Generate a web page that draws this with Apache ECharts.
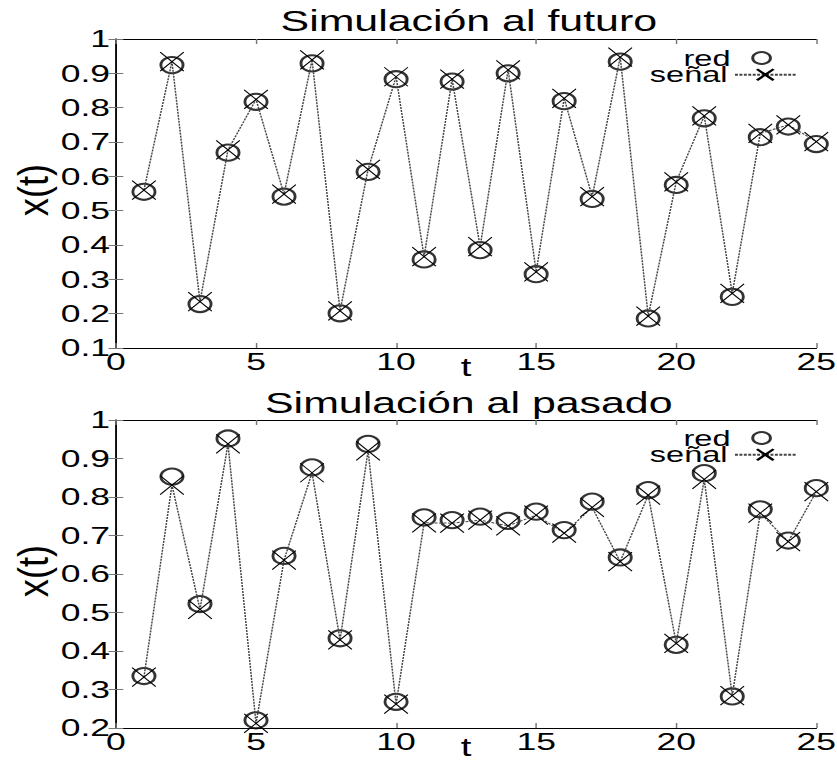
<!DOCTYPE html>
<html>
<head>
<meta charset="utf-8">
<script src="https://cdn.jsdelivr.net/npm/echarts@6/dist/echarts.min.js"></script>
<style>
  html, body { margin: 0; padding: 0; background: #fff; }
  #wrap { width: 837px; height: 762px; overflow: hidden; }
  /* the reference is stretched sideways, so draw narrow and stretch */
  #chart { width: 566px; height: 762px; transform: scaleX(1.4788); transform-origin: 0 0; }
</style>
</head>
<body>
<div id="wrap"><div id="chart"></div></div>
<script>
const t = [1, 2, 3, 4, 5, 6, 7, 8, 9, 10, 11, 12, 13, 14, 15, 16, 17, 18, 19, 20, 21, 22, 23, 24, 25];

const futuroRed = [0.555, 0.924, 0.228, 0.669, 0.817, 0.541, 0.929, 0.201, 0.613, 0.883, 0.358, 0.876, 0.385,
    0.900, 0.315, 0.819, 0.534, 0.934, 0.186, 0.575, 0.769, 0.249, 0.714, 0.745, 0.694];
const futuroSenal = [0.560, 0.934, 0.235, 0.677, 0.824, 0.548, 0.939, 0.208, 0.620, 0.890, 0.366, 0.883, 0.395,
    0.910, 0.322, 0.827, 0.541, 0.947, 0.193, 0.584, 0.776, 0.259, 0.725, 0.750, 0.701];

const pasadoRed = [0.335, 0.853, 0.522, 0.952, 0.220, 0.647, 0.877, 0.433, 0.938, 0.268, 0.747, 0.740, 0.749,
    0.738, 0.762, 0.714, 0.788, 0.643, 0.818, 0.416, 0.862, 0.282, 0.768, 0.687, 0.823];
const pasadoSenal = [0.332, 0.831, 0.508, 0.938, 0.212, 0.636, 0.863, 0.429, 0.920, 0.262, 0.733, 0.732, 0.740,
    0.725, 0.753, 0.706, 0.773, 0.632, 0.805, 0.420, 0.846, 0.284, 0.758, 0.684, 0.814];

const titles = ['Simulación al futuro', 'Simulación al pasado'];
const yMins = [0.1, 0.2];

const FONT = 'Liberation Sans';
const xMark = 'path://M0,0L10,10M10,0L0,10';

const pairs = (ys) => t.map((x, i) => [x, ys[i]]);

const grids = [
    { left: 78.4, top: 39, width: 473.6, height: 309, outerBoundsMode: 'none' },
    { left: 78.4, top: 420, width: 473.6, height: 308, outerBoundsMode: 'none' }
];

const xAxes = [];
const yAxes = [];
grids.forEach((g, i) => {
    const tick = { show: true, inside: true, length: 5, lineStyle: { color: '#777', width: 1 } };
    const line = { show: true, lineStyle: { color: '#000', width: 1 } };
    xAxes.push({
        type: 'value', gridIndex: i, position: 'bottom', min: 0, max: 25, interval: 5,
        axisLine: line, axisTick: tick, splitLine: { show: false },
        axisLabel: { color: '#000', fontFamily: FONT, fontSize: 24, margin: 2 },
        name: 't', nameLocation: 'middle', nameGap: 6, nameMoveOverlap: false,
        nameTextStyle: { color: '#000', fontFamily: FONT, fontSize: 26 }
    });
    xAxes.push({
        type: 'value', gridIndex: i, position: 'top', min: 0, max: 25, interval: 5,
        axisLine: line, axisTick: tick, axisLabel: { show: false }, splitLine: { show: false }
    });
    yAxes.push({
        type: 'value', gridIndex: i, position: 'left', min: yMins[i], max: 1, interval: 0.1,
        axisLine: line, axisTick: tick, splitLine: { show: false },
        axisLabel: {
            color: '#000', fontFamily: FONT, fontSize: 24, margin: 4,
            formatter: (v) => String(Number(v.toFixed(1)))
        }
    });
    yAxes.push({
        type: 'value', gridIndex: i, position: 'right', min: yMins[i], max: 1, interval: 0.1,
        axisLine: line, axisTick: tick, axisLabel: { show: false }, splitLine: { show: false }
    });
});

const makeSeries = (i, red, senal) => [
    {
        name: 'red', type: 'scatter', xAxisIndex: i * 2, yAxisIndex: i * 2,
        symbol: 'emptyCircle', symbolSize: [15, 16],
        itemStyle: { color: '#000', borderColor: '#000', borderWidth: 0.8 },
        data: pairs(red), z: 3
    },
    {
        name: 'señal', type: 'line', xAxisIndex: i * 2, yAxisIndex: i * 2,
        symbol: xMark, symbolSize: [16, 19], showSymbol: true,
        itemStyle: { color: 'transparent', borderColor: '#000', borderWidth: 0.9 },
        lineStyle: { color: '#444', width: 1, type: [2, 1] },
        data: pairs(senal), z: 4
    }
];

// one legend per row so the rows can sit as close as in the reference
const legendText = { color: '#000', fontFamily: FONT, fontSize: 22, lineHeight: 16 };
const redLegend = (top) => ({
    orient: 'vertical', align: 'right', right: 44, top: top, padding: 0,
    itemWidth: 12, itemHeight: 12, selectedMode: false,
    textStyle: Object.assign({ padding: [0, 10, 0, 0] }, legendText),
    data: [{ name: 'red', icon: 'emptyCircle' }]
});
const senalLegend = (top) => ({
    orient: 'vertical', align: 'right', right: 27, top: top, padding: 0,
    itemWidth: 41, itemHeight: 14, selectedMode: false,
    textStyle: legendText,
    data: ['señal']
});

// the y label of the reference is drawn long and narrow
const yName = (cy) => ({
    type: 'text', x: 22.3, y: cy, rotation: Math.PI / 2, scaleX: 1.25, silent: true,
    style: { text: 'x(t)', fill: '#000', font: '29px "Liberation Sans"', align: 'center', verticalAlign: 'middle' }
});

const chart = echarts.init(document.getElementById('chart'), null, { renderer: 'svg' });
chart.setOption({
    animation: false,
    backgroundColor: '#fff',
    title: titles.map((txt, i) => ({
        text: txt, left: 312, textAlign: 'center', top: i === 0 ? 2 : 384,
        textStyle: { color: '#000', fontFamily: FONT, fontSize: 29, fontWeight: 'normal' }
    })),
    legend: [
        redLegend(47), senalLegend(63.7),
        redLegend(427), senalLegend(443.7)
    ],
    graphic: [yName(190), yName(571)],
    grid: grids,
    xAxis: xAxes,
    yAxis: yAxes,
    series: makeSeries(0, futuroRed, futuroSenal).concat(makeSeries(1, pasadoRed, pasadoSenal))
});
</script>
</body>
</html>
